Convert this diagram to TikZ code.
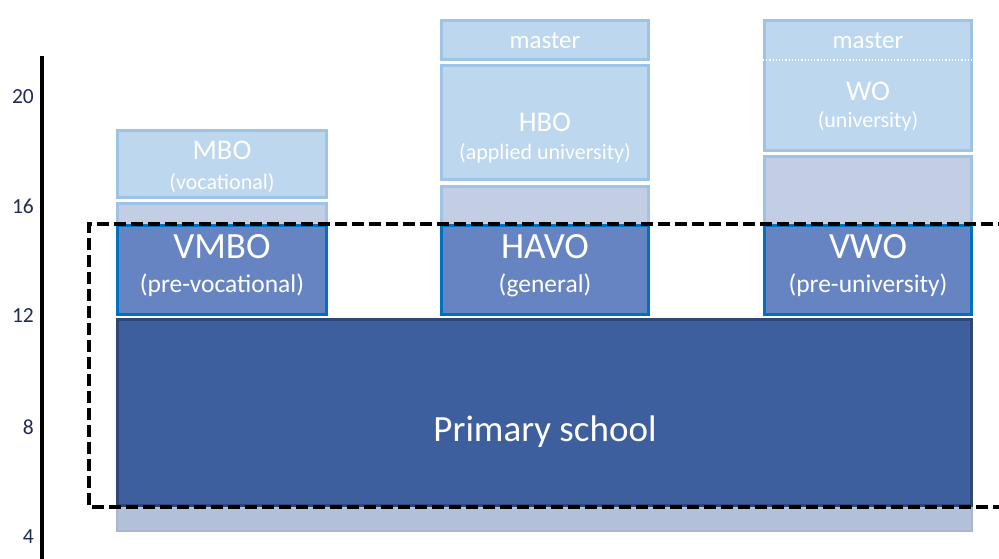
\documentclass[tikz,border=0pt]{standalone}
\usepackage{fontspec}
\setmainfont{Carlito}
\definecolor{lbfill}{HTML}{BDD7EE}
\definecolor{lbline}{HTML}{9DC3E6}
\definecolor{grayfill}{HTML}{C3CEE4}
\definecolor{midfill}{HTML}{6784C2}
\definecolor{midline}{HTML}{0070C0}
\definecolor{darkfill}{HTML}{3D5F9E}
\definecolor{darkline}{HTML}{2F4778}
\definecolor{lowfill}{HTML}{B3C0DA}
\definecolor{lowline}{HTML}{AAB6CE}
\definecolor{axistext}{HTML}{1F2B50}
\begin{document}
\begin{tikzpicture}[x=1pt,y=-1pt,
  lbox/.style={draw=lbline, fill=lbfill, line width=3pt, inner sep=0pt},
  gbox/.style={draw=lbline, fill=grayfill, line width=3pt, inner sep=0pt},
  mbox/.style={draw=midline, fill=midfill, line width=3pt, inner sep=0pt},
  txt/.style={text=white, inner sep=0pt},
  big/.style={txt, font=\fontsize{37}{41}\selectfont},
  mid/.style={txt, font=\fontsize{25.5}{29}\selectfont},
  smallhead/.style={txt, font=\fontsize{28.5}{32}\selectfont},
  smallsub/.style={txt, font=\fontsize{22}{26}\selectfont},
  mastertxt/.style={txt, font=\fontsize{25}{29}\selectfont},
  ticklabel/.style={text=axistext, anchor=east, inner sep=0pt, font=\fontsize{21.5}{25}\selectfont}
]
\useasboundingbox (0,0) rectangle (999,558);

% axis
\draw[line width=4pt] (42,56) -- (42,560);
\node[ticklabel] (t20) at (34,97) {20};
\node[ticklabel] (t16) at (34,206) {16};
\node[ticklabel] (t12) at (34,316) {12};
\node[ticklabel] (t8) at (34,427) {8};
\node[ticklabel] (t4) at (34,537) {4};

% primary school
\node[draw=lowline, fill=lowfill, line width=2pt, inner sep=0pt, minimum width=855pt, minimum height=212pt] (low) at (544.5,425) {};
\node[draw=darkline, fill=darkfill, line width=3pt, inner sep=0pt, minimum width=854pt, minimum height=186pt] (primary) at (544.5,412.5) {};
\node[big] (primarytxt) at (545,432) {Primary school};

% left column
\node[gbox, minimum width=209pt, minimum height=110pt] (lgray) at (222,258) {};
\node[lbox, minimum width=209pt, minimum height=67pt] (mbo) at (222,164) {};
\node[mbox, minimum width=209pt, minimum height=89pt] (vmbo) at (222,270) {};
\node[smallhead] (mbotxt) at (222,150) {MBO};
\node[smallsub] (mbosub) at (222,183) {(vocational)};
\node[big] (vmbotxt) at (222,247) {VMBO};
\node[mid] (vmbosub) at (222,285) {(pre-vocational)};

% middle column
\node[gbox, minimum width=207pt, minimum height=128pt] (mgray) at (545,250) {};
\node[lbox, minimum width=207pt, minimum height=39pt] (mmaster) at (545,40) {};
\node[lbox, minimum width=207pt, minimum height=114pt] (hbo) at (545,122.5) {};
\node[mbox, minimum width=207pt, minimum height=89pt] (havo) at (545,270) {};
\node[mastertxt] (mmastertxt) at (545,41) {master};
\node[smallhead] (hbotxt) at (545,122) {HBO};
\node[smallsub] (hbosub) at (545,153) {(applied university)};
\node[big] (havotxt) at (545,247) {HAVO};
\node[mid] (havosub) at (545,285) {(general)};

% right column
\node[gbox, minimum width=207pt, minimum height=157pt] (rgray) at (868,235) {};
\node[lbox, minimum width=207pt, minimum height=130pt] (wo) at (868,85.5) {};
\draw[white, line width=1.2pt, dotted] (wo.west |- 0,60) -- (wo.east |- 0,60);
\node[mbox, minimum width=207pt, minimum height=89pt] (vwo) at (868,270) {};
\node[mastertxt] (rmastertxt) at (868,41) {master};
\node[smallhead] (wotxt) at (868,91) {WO};
\node[smallsub] (wosub) at (868,121) {(university)};
\node[big] (vwotxt) at (868,247) {VWO};
\node[mid] (vwosub) at (868,285) {(pre-university)};

% dashed frame
\draw[line width=3.5pt, dash pattern=on 12pt off 5pt] (1010,224) -- (89,224) -- (89,507) -- (1010,507);
\end{tikzpicture}
\end{document}
